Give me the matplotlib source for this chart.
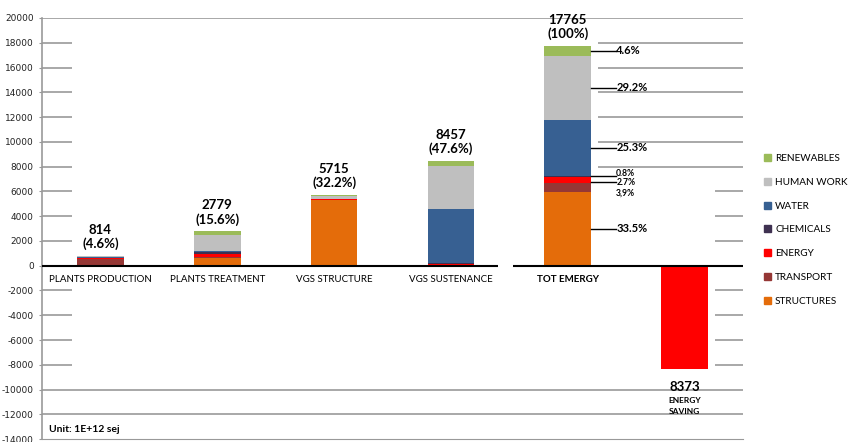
import numpy as np
import matplotlib.pyplot as plt
from matplotlib.patches import Patch

plt.rcParams['font.family'] = ['Lato', 'DejaVu Sans']

# data (1E+12 sej)
categories = ['PLANTS PRODUCTION', 'PLANTS TREATMENT', 'VGS STRUCTURE', 'VGS SUSTENANCE', 'TOT EMERGY']
components = ['STRUCTURES', 'TRANSPORT', 'ENERGY', 'CHEMICALS', 'WATER', 'HUMAN WORK', 'RENEWABLES']
structures = [0, 650, 5301, 0, 5951]
transport = [560, 20, 40, 73, 693]
energy = [80, 300, 20, 80, 480]
chemicals = [10, 100, 0, 32, 142]
water = [15, 80, 0, 4400, 4495]
human_work = [100, 1350, 260, 3477, 5187]
renewables = [49, 279, 94, 395, 817]
totals = [814, 2779, 5715, 8457, 17765]
total_labels = ['814\n(4.6%)', '2779\n(15.6%)', '5715\n(32.2%)', '8457\n(47.6%)', '17765\n(100%)']
share_labels = ['33.5%', '3,9%', '2.7%', '0.8%', '25.3%', '29.2%', '4.6%']
saving_value = -8373
saving_label = 'ENERGY\nSAVING'

colors = ['#E46C0A', '#953735', '#FF0000', '#3F3151', '#376092', '#BFBFBF', '#9BBB59']
series = [structures, transport, energy, chemicals, water, human_work, renewables]

fig = plt.figure(figsize=(8.49, 4.42), dpi=100)
ax = fig.add_axes([42 / 849, 2.9 / 442, 701 / 849, 421.1 / 442])

x = np.arange(len(categories))
w = 0.4
bottom = np.zeros(len(categories))
for vals, c, name in zip(series, colors, components):
    ax.bar(x, vals, w, bottom=bottom, color=c, label=name, zorder=3)
    bottom += np.array(vals)

ax.bar(len(categories), saving_value, w, color='#FF0000', zorder=3)

ax.set_xlim(-0.5, 5.5)
ax.set_ylim(-14000, 20000)
yt = np.arange(-14000, 20001, 2000)
ax.set_yticks(yt)
ax.set_yticklabels([str(v) for v in yt], fontsize=6.5, family='DejaVu Sans', color='#222222')
ax.tick_params(axis='y', length=2, color='#999999', pad=4)
ax.set_xticks([])
for s in ['top', 'right']:
    ax.spines[s].set_visible(False)
ax.spines['left'].set_color('#999999')
ax.spines['bottom'].set_color('#999999')
ax.spines['left'].set_linewidth(1.2)

# gridlines, partly hidden like the original
tr = ax.get_yaxis_transform()
gkw = dict(colors='#9a9a9a', linewidth=1.2, transform=tr, zorder=1)
for v in yt:
    if v in (20000, -10000, -12000):
        ax.hlines(v, 0, 1, **gkw)
    elif v == 0:
        ax.hlines(0, 0, 0.650, colors='black', linewidth=1.5, transform=tr, zorder=4)
        ax.hlines(0, 0.672, 1, colors='black', linewidth=1.5, transform=tr, zorder=4)
    elif v > -14000:
        ax.hlines(v, 0, 0.043, **gkw)
        if v >= 8000:
            ax.hlines(v, 0.793, 1, **gkw)
        else:
            ax.hlines(v, 0.96, 1, **gkw)

# category labels
for i, name in enumerate(categories):
    ax.annotate(name, (i, 0), xytext=(0, -7), textcoords='offset points',
                ha='center', va='top', fontsize=7,
                fontweight='bold' if name == 'TOT EMERGY' else 'normal')

# totals above bars
for i, (t, lab) in enumerate(zip(totals, total_labels)):
    ax.annotate(lab, (i, t), xytext=(0, 4), textcoords='offset points',
                ha='center', va='bottom', fontsize=9.5, fontweight='bold',
                linespacing=1.15)

# shares next to total bar
tot_idx = len(categories) - 1
cum = 0
mids = []
for vals in series:
    mids.append(cum + vals[tot_idx] / 2)
    cum += vals[tot_idx]
line_y = list(mids)
line_y[2] = 6760
line_y[3] = 7240
text_y = list(line_y)
text_y[1] = 5850
text_y[2] = 6700
text_y[3] = 7420
for k, (ly, ty, lab) in enumerate(zip(line_y, text_y, share_labels)):
    if k != 1:
        ax.plot([tot_idx + w / 2, tot_idx + 0.41], [ly, ly], color='black', lw=1, zorder=5)
    fs = 6.2 if k in (1, 2, 3) else 8
    ax.annotate(lab, (tot_idx + 0.415, ty), ha='left', va='center',
                fontsize=fs, fontweight='bold', zorder=5)

# energy saving label
ax.annotate(str(abs(saving_value)), (5, saving_value), xytext=(0, -8), textcoords='offset points',
            ha='center', va='top', fontsize=9.5, fontweight='bold')
ax.annotate(saving_label, (5, saving_value), xytext=(0, -20), textcoords='offset points',
            ha='center', va='top', fontsize=6, fontweight='bold', linespacing=1.6)

ax.text(0.01, -13200, 'Unit: 1E+12 sej', fontsize=7.5, fontweight='bold', va='center', ha='left',
        transform=tr)

handles = [Patch(color=c, label=n) for c, n in zip(colors, components)][::-1]
fig.legend(handles=handles, loc='upper left', bbox_to_anchor=(760 / 849, 1 - 150 / 442),
           frameon=False, fontsize=7.2, handlelength=0.7, handleheight=0.7,
           handletextpad=0.4, labelspacing=1.48, borderaxespad=0)

fig.savefig('out.png', dpi=100)
